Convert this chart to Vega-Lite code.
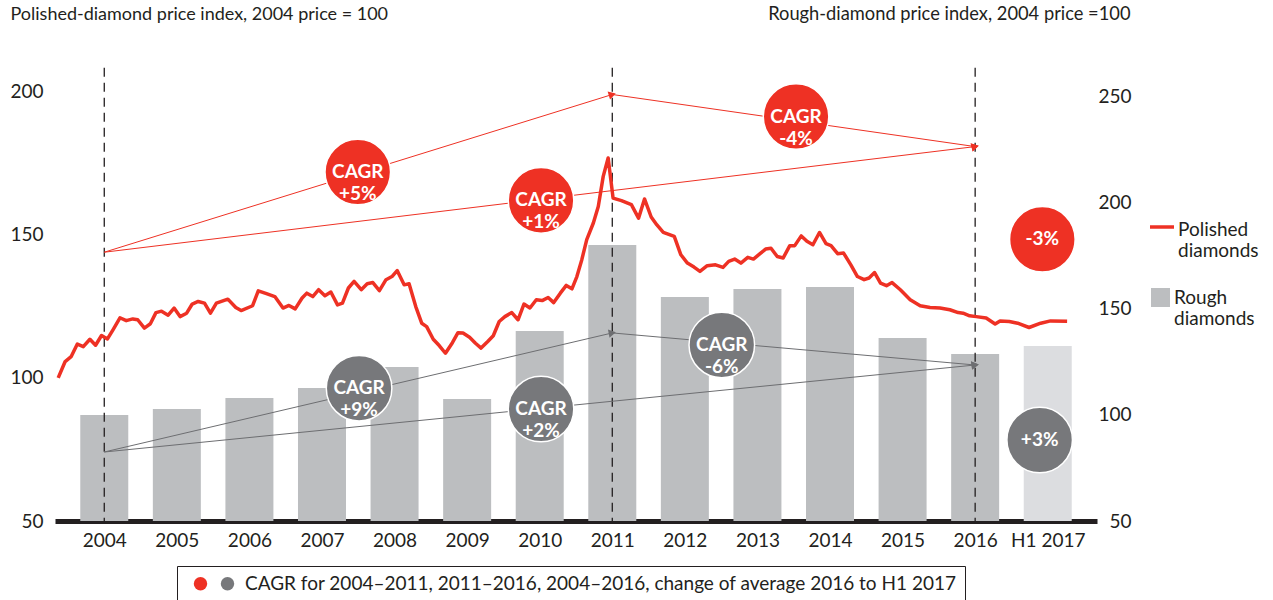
{
  "$schema": "https://vega.github.io/schema/vega-lite/v6.json",
  "width": 1042,
  "height": 458,
  "autosize": {"type": "none"},
  "padding": {"left": 55, "top": 63, "right": 176, "bottom": 79},
  "background": "white",
  "config": {
    "font": "Lato",
    "view": {"stroke": null},
    "axis": {"labelFont": "Lato", "labelColor": "#231f20", "titleFont": "Lato", "titleColor": "#231f20", "labelFlush": false, "labelOverlap": false},
    "legend": {"labelFont": "Lato", "labelColor": "#231f20"},
    "text": {"font": "Lato"}
  },
  "datasets": {
    "rough": [
      {"year": 2004, "index": 100.0, "series": "Rough diamonds"},
      {"year": 2005, "index": 102.8, "series": "Rough diamonds"},
      {"year": 2006, "index": 108.0, "series": "Rough diamonds"},
      {"year": 2007, "index": 112.7, "series": "Rough diamonds"},
      {"year": 2008, "index": 122.6, "series": "Rough diamonds"},
      {"year": 2009, "index": 107.5, "series": "Rough diamonds"},
      {"year": 2010, "index": 139.6, "series": "Rough diamonds"},
      {"year": 2011, "index": 180.2, "series": "Rough diamonds"},
      {"year": 2012, "index": 155.7, "series": "Rough diamonds"},
      {"year": 2013, "index": 159.4, "series": "Rough diamonds"},
      {"year": 2014, "index": 160.4, "series": "Rough diamonds"},
      {"year": 2015, "index": 136.3, "series": "Rough diamonds"},
      {"year": 2016, "index": 128.8, "series": "Rough diamonds"},
      {"year": 2017, "index": 132.5, "series": "Rough diamonds"}
    ],
    "polished": [
      {"t": 2003.365, "v": 100.0}, {"t": 2003.461, "v": 105.7}, {"t": 2003.543, "v": 107.4}, {"t": 2003.629, "v": 111.8},
      {"t": 2003.711, "v": 110.9}, {"t": 2003.802, "v": 113.5}, {"t": 2003.880, "v": 111.4}, {"t": 2003.962, "v": 114.8},
      {"t": 2004.044, "v": 113.6}, {"t": 2004.120, "v": 116.8}, {"t": 2004.216, "v": 121.0}, {"t": 2004.303, "v": 120.0},
      {"t": 2004.393, "v": 120.6}, {"t": 2004.461, "v": 120.3}, {"t": 2004.553, "v": 117.4}, {"t": 2004.635, "v": 118.9},
      {"t": 2004.712, "v": 122.8}, {"t": 2004.789, "v": 123.3}, {"t": 2004.880, "v": 121.9}, {"t": 2004.962, "v": 124.4},
      {"t": 2005.044, "v": 121.4}, {"t": 2005.135, "v": 122.6}, {"t": 2005.212, "v": 125.8}, {"t": 2005.294, "v": 126.7},
      {"t": 2005.381, "v": 126.1}, {"t": 2005.463, "v": 122.6}, {"t": 2005.545, "v": 126.1}, {"t": 2005.703, "v": 127.5},
      {"t": 2005.812, "v": 124.6}, {"t": 2005.886, "v": 123.5}, {"t": 2006.044, "v": 125.2}, {"t": 2006.122, "v": 130.4},
      {"t": 2006.235, "v": 129.4}, {"t": 2006.350, "v": 128.4}, {"t": 2006.463, "v": 124.4}, {"t": 2006.545, "v": 125.3},
      {"t": 2006.631, "v": 124.1}, {"t": 2006.726, "v": 127.9}, {"t": 2006.791, "v": 129.6}, {"t": 2006.873, "v": 128.4},
      {"t": 2006.954, "v": 130.8}, {"t": 2007.040, "v": 128.7}, {"t": 2007.122, "v": 130.0}, {"t": 2007.214, "v": 125.5},
      {"t": 2007.282, "v": 126.1}, {"t": 2007.364, "v": 131.4}, {"t": 2007.442, "v": 133.7}, {"t": 2007.541, "v": 130.8},
      {"t": 2007.623, "v": 132.9}, {"t": 2007.701, "v": 133.3}, {"t": 2007.791, "v": 130.5}, {"t": 2007.882, "v": 134.3},
      {"t": 2007.964, "v": 135.4}, {"t": 2008.036, "v": 137.5}, {"t": 2008.132, "v": 132.5}, {"t": 2008.200, "v": 132.9},
      {"t": 2008.292, "v": 124.9}, {"t": 2008.374, "v": 119.1}, {"t": 2008.442, "v": 117.9}, {"t": 2008.533, "v": 113.5},
      {"t": 2008.615, "v": 111.3}, {"t": 2008.701, "v": 108.6}, {"t": 2008.797, "v": 112.3}, {"t": 2008.874, "v": 115.8},
      {"t": 2008.943, "v": 115.7}, {"t": 2009.033, "v": 114.2}, {"t": 2009.115, "v": 112.1}, {"t": 2009.192, "v": 110.4},
      {"t": 2009.284, "v": 112.7}, {"t": 2009.360, "v": 114.7}, {"t": 2009.442, "v": 119.7}, {"t": 2009.520, "v": 121.4},
      {"t": 2009.615, "v": 122.8}, {"t": 2009.701, "v": 120.3}, {"t": 2009.783, "v": 125.8}, {"t": 2009.865, "v": 124.4},
      {"t": 2009.953, "v": 127.3}, {"t": 2010.034, "v": 127.0}, {"t": 2010.116, "v": 128.1}, {"t": 2010.193, "v": 126.3},
      {"t": 2010.284, "v": 129.6}, {"t": 2010.366, "v": 132.3}, {"t": 2010.444, "v": 131.1}, {"t": 2010.512, "v": 135.4},
      {"t": 2010.580, "v": 141.3}, {"t": 2010.648, "v": 148.3}, {"t": 2010.739, "v": 154.1}, {"t": 2010.807, "v": 159.9},
      {"t": 2010.875, "v": 170.4}, {"t": 2010.943, "v": 176.8}, {"t": 2011.011, "v": 162.8}, {"t": 2011.126, "v": 161.9},
      {"t": 2011.263, "v": 160.5}, {"t": 2011.362, "v": 155.8}, {"t": 2011.444, "v": 162.5}, {"t": 2011.536, "v": 156.2},
      {"t": 2011.612, "v": 153.5}, {"t": 2011.703, "v": 150.8}, {"t": 2011.854, "v": 149.4}, {"t": 2011.945, "v": 143.0},
      {"t": 2012.035, "v": 140.1}, {"t": 2012.126, "v": 138.7}, {"t": 2012.208, "v": 137.2}, {"t": 2012.308, "v": 139.2},
      {"t": 2012.423, "v": 139.5}, {"t": 2012.526, "v": 138.6}, {"t": 2012.604, "v": 140.7}, {"t": 2012.686, "v": 141.5},
      {"t": 2012.772, "v": 140.1}, {"t": 2012.867, "v": 142.1}, {"t": 2012.945, "v": 141.5}, {"t": 2013.036, "v": 143.4},
      {"t": 2013.113, "v": 145.0}, {"t": 2013.187, "v": 145.3}, {"t": 2013.273, "v": 142.4}, {"t": 2013.355, "v": 141.9},
      {"t": 2013.446, "v": 146.2}, {"t": 2013.514, "v": 146.2}, {"t": 2013.604, "v": 149.6}, {"t": 2013.682, "v": 147.7},
      {"t": 2013.764, "v": 146.5}, {"t": 2013.855, "v": 150.8}, {"t": 2013.945, "v": 146.9}, {"t": 2014.014, "v": 146.2},
      {"t": 2014.105, "v": 143.4}, {"t": 2014.187, "v": 143.6}, {"t": 2014.287, "v": 139.5}, {"t": 2014.378, "v": 135.4},
      {"t": 2014.470, "v": 134.3}, {"t": 2014.538, "v": 134.9}, {"t": 2014.614, "v": 136.8}, {"t": 2014.696, "v": 133.1},
      {"t": 2014.778, "v": 132.2}, {"t": 2014.855, "v": 133.3}, {"t": 2014.969, "v": 130.8}, {"t": 2015.105, "v": 127.3},
      {"t": 2015.242, "v": 125.2}, {"t": 2015.378, "v": 124.6}, {"t": 2015.515, "v": 124.4}, {"t": 2015.651, "v": 123.8},
      {"t": 2015.766, "v": 122.8}, {"t": 2015.834, "v": 122.6}, {"t": 2015.924, "v": 121.7}, {"t": 2016.015, "v": 121.4},
      {"t": 2016.152, "v": 120.9}, {"t": 2016.275, "v": 118.8}, {"t": 2016.343, "v": 119.9}, {"t": 2016.470, "v": 119.7},
      {"t": 2016.585, "v": 119.1}, {"t": 2016.743, "v": 117.6}, {"t": 2016.903, "v": 119.1}, {"t": 2017.039, "v": 119.9},
      {"t": 2017.267, "v": 119.8}
    ],
    "markers": [{"year": 2004}, {"year": 2011}, {"year": 2016}],
    "arrows": [
      {"id": "p1", "kind": "polished", "t1": 2004, "v1": 143.9, "t2": 2011, "v2": 199.0},
      {"id": "p2", "kind": "polished", "t1": 2004, "v1": 143.9, "t2": 2016, "v2": 180.8},
      {"id": "p3", "kind": "polished", "t1": 2011, "v1": 199.0, "t2": 2016, "v2": 180.8},
      {"id": "r1", "kind": "rough", "t1": 2004, "v1": 74.1, "t2": 2011, "v2": 115.7},
      {"id": "r2", "kind": "rough", "t1": 2004, "v1": 74.1, "t2": 2016, "v2": 104.5},
      {"id": "r3", "kind": "rough", "t1": 2011, "v1": 115.7, "t2": 2016, "v2": 104.5}
    ],
    "cagr": [
      {"kind": "polished", "t": 2007.493, "v": 171.9, "label": "CAGR\n+5%"},
      {"kind": "polished", "t": 2010.018, "v": 162.0, "label": "CAGR\n+1%"},
      {"kind": "polished", "t": 2013.532, "v": 191.3, "label": "CAGR\n-4%"},
      {"kind": "polished", "t": 2016.926, "v": 148.4, "label": "-3%"},
      {"kind": "rough", "t": 2007.511, "v": 96.4, "label": "CAGR\n+9%"},
      {"kind": "rough", "t": 2010.018, "v": 89.1, "label": "CAGR\n+2%"},
      {"kind": "rough", "t": 2012.509, "v": 111.5, "label": "CAGR\n-6%"},
      {"kind": "rough", "t": 2016.889, "v": 78.3, "label": "+3%"}
    ]
  },
  "layer": [
    {
      "data": {"name": "rough"},
      "mark": {"type": "bar", "size": 48},
      "encoding": {
        "x": {
          "field": "year", "type": "quantitative",
          "scale": {"domain": [2003.39, 2017.61], "nice": false, "zero": false},
          "axis": {
            "values": [2004, 2005, 2006, 2007, 2008, 2009, 2010, 2011, 2012, 2013, 2014, 2015, 2016, 2017],
            "format": "d",
            "labelExpr": "datum.value == 2017 ? 'H1 2017' : datum.label",
            "title": null, "ticks": false, "grid": false,
            "domainColor": "#231f20", "domainWidth": 5,
            "labelFontSize": 19, "labelPadding": 10
          }
        },
        "y": {
          "field": "index", "type": "quantitative",
          "scale": {"domain": [50, 266], "nice": false, "zero": false},
          "axis": {
            "orient": "right",
            "values": [50, 100, 150, 200, 250],
            "domain": false, "ticks": false, "grid": false,
            "labelAlign": "right", "labelPadding": 34, "labelFontSize": 19,
            "title": "Rough-diamond price index, 2004 price =100",
            "titleAngle": 0, "titleX": 33, "titleY": -49,
            "titleAlign": "right", "titleBaseline": "middle",
            "titleFontSize": 18.3, "titleFontWeight": "normal"
          }
        },
        "y2": {"datum": 50},
        "fill": {
          "condition": {"test": "datum.year === 2017", "value": "#dcdde0"},
          "field": "series", "type": "nominal",
          "scale": {"domain": ["Rough diamonds"], "range": ["#bcbec0"]},
          "legend": {
            "orient": "none", "legendX": 1096, "legendY": 225,
            "title": null, "padding": 0,
            "symbolType": "M-1,-1.0H1V1.0H-1Z", "symbolSize": 361,
            "symbolStrokeWidth": 0,
            "labelExpr": "['Rough', 'diamonds']",
            "labelFontSize": 19, "labelOffset": 4, "labelLimit": 300
          }
        }
      }
    },
    {
      "layer": [
        {
          "data": {"name": "markers"},
          "mark": {"type": "rule", "stroke": "#231f20", "strokeWidth": 1.3, "strokeDash": [9, 6]},
          "encoding": {
            "x": {"field": "year", "type": "quantitative", "scale": {"domain": [2003.39, 2017.61], "nice": false, "zero": false}},
            "y": {"datum": 208.3, "type": "quantitative", "scale": {"domain": [50, 210], "nice": false, "zero": false}},
            "y2": {"datum": 50}
          }
        },
        {
          "data": {"name": "arrows"},
          "mark": {"type": "rule", "strokeWidth": 1},
          "encoding": {
            "x": {"field": "t1", "type": "quantitative", "scale": {"domain": [2003.39, 2017.61], "nice": false, "zero": false}},
            "y": {"field": "v1", "type": "quantitative", "scale": {"domain": [50, 210], "nice": false, "zero": false}},
            "x2": {"field": "t2"},
            "y2": {"field": "v2"},
            "color": {"field": "kind", "type": "nominal", "scale": {"domain": ["polished", "rough"], "range": ["#ee3124", "#6d6e71"]}, "legend": null}
          }
        },
        {
          "data": {"name": "arrows"},
          "mark": {"type": "point", "shape": "triangle-right", "filled": true, "size": 70, "opacity": 1},
          "encoding": {
            "x": {"field": "t2", "type": "quantitative", "scale": {"domain": [2003.39, 2017.61], "nice": false, "zero": false}},
            "y": {"field": "v2", "type": "quantitative", "scale": {"domain": [50, 210], "nice": false, "zero": false}},
            "color": {"field": "kind", "type": "nominal", "scale": {"domain": ["polished", "rough"], "range": ["#ee3124", "#6d6e71"]}, "legend": null},
            "angle": {"field": "id", "type": "nominal", "scale": {"domain": ["p1", "p2", "p3", "r1", "r2", "r3"], "range": [-17.1, -6.8, 8.1, -13.1, -5.6, 5.0]}, "legend": null}
          }
        },
        {
          "data": {"name": "polished"},
          "mark": {"type": "line", "strokeWidth": 3.5, "strokeJoin": "round"},
          "encoding": {
            "x": {"field": "t", "type": "quantitative", "scale": {"domain": [2003.39, 2017.61], "nice": false, "zero": false}},
            "y": {
              "field": "v", "type": "quantitative",
              "scale": {"domain": [50, 210], "nice": false, "zero": false},
              "axis": {
                "orient": "left",
                "values": [50, 100, 150, 200],
                "domain": false, "ticks": false, "grid": false,
                "labelPadding": 12, "labelFontSize": 19,
                "title": "Polished-diamond price index, 2004 price = 100",
                "titleAngle": 0, "titleX": -45, "titleY": -49,
                "titleAlign": "left", "titleBaseline": "middle",
                "titleFontSize": 18, "titleFontWeight": "normal"
              }
            },
            "stroke": {
              "datum": "Polished diamonds", "type": "nominal",
              "scale": {"domain": ["Polished diamonds"], "range": ["#ee3124"]},
              "legend": {
                "orient": "none", "legendX": 1093, "legendY": 153,
                "title": null, "padding": 0,
                "symbolType": "M-1,-0.25L1,-0.25", "symbolSize": 576,
                "symbolStrokeWidth": 3.5,
                "labelExpr": "['Polished', 'diamonds']",
                "labelFontSize": 19, "labelOffset": 2, "labelLimit": 300
              }
            }
          }
        },
        {
          "data": {"name": "cagr"},
          "mark": {"type": "point", "shape": "circle", "filled": true, "size": 4300, "opacity": 1, "stroke": "white", "strokeWidth": 1.5},
          "encoding": {
            "x": {"field": "t", "type": "quantitative", "scale": {"domain": [2003.39, 2017.61], "nice": false, "zero": false}},
            "y": {"field": "v", "type": "quantitative", "scale": {"domain": [50, 210], "nice": false, "zero": false}},
            "fill": {
              "field": "kind", "type": "nominal",
              "scale": {"domain": ["polished", "rough"], "range": ["#ee3124", "#77787b"]},
              "legend": {
                "orient": "none", "legendX": 122, "legendY": 503,
                "direction": "horizontal",
                "title": "  ", "titleOrient": "left", "titlePadding": 6, "titleFontSize": 19,
                "labelExpr": "datum.value == 'rough' ? 'CAGR for 2004–2011, 2011–2016, 2004–2016, change of average 2016 to H1 2017' : ''",
                "symbolType": "circle", "symbolSize": 180, "symbolStrokeWidth": 0,
                "labelFontSize": 19, "labelLimit": 1000, "labelOffset": 8,
                "columnPadding": 0,
                "strokeColor": "#231f20", "padding": 8
              }
            }
          }
        },
        {
          "data": {"name": "cagr"},
          "mark": {"type": "text", "color": "white", "fontSize": 19, "fontWeight": "bold", "lineHeight": 22, "lineBreak": "\n", "align": "center", "baseline": "middle"},
          "encoding": {
            "x": {"field": "t", "type": "quantitative", "scale": {"domain": [2003.39, 2017.61], "nice": false, "zero": false}},
            "y": {"field": "v", "type": "quantitative", "scale": {"domain": [50, 210], "nice": false, "zero": false}},
            "text": {"field": "label", "type": "nominal"}
          }
        }
      ]
    }
  ],
  "resolve": {"scale": {"y": "independent", "fill": "independent"}, "axis": {"y": "independent"}}
}
